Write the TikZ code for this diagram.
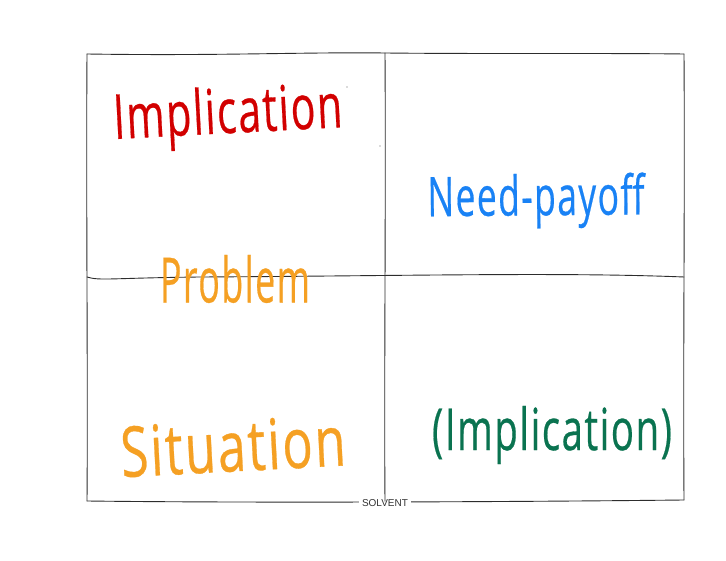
\documentclass[tikz,border=0pt]{standalone}
\usepackage{fontspec}
\setmainfont{Open Sans}
\newfontfamily\handfont[FakeBold=0.5,LetterSpace=4]{Open Sans}
\newfontfamily\labelfont{Liberation Sans}
\usepackage{graphicx}
\definecolor{hred}{RGB}{210,0,0}
\definecolor{hblue}{RGB}{25,130,245}
\definecolor{horange}{RGB}{245,160,35}
\definecolor{hgreen}{RGB}{10,115,80}
\definecolor{gridc}{RGB}{45,45,45}
\newcommand{\hwtext}[3]{\resizebox*{#1}{#2}{\handfont #3}}
\begin{document}
\begin{tikzpicture}[x=1pt,y=-1pt,
  gridline/.style={draw=gridc, line width=0.9pt, line cap=round},
  hand/.style={inner sep=0pt, outer sep=0pt},
  caption/.style={fill=white, inner xsep=3pt, inner ysep=2pt, text=black!80, font=\labelfont\fontsize{10}{10}\selectfont}]
\useasboundingbox[fill=white] (0,0) rectangle (726,561);
% grid corners
\coordinate (tl) at (87,54);
\coordinate (tr) at (684,54);
\coordinate (bl) at (87,501);
\coordinate (br) at (684,500);
\coordinate (tm) at (385,53);
\coordinate (ml) at (87,277);
\coordinate (mr) at (684,277);
% outer box
\draw[gridline] (tl) .. controls (220,56) and (300,52) .. (tm) .. controls (480,54) and (600,53) .. (tr);
\draw[gridline] (tr) .. controls (685,200) and (683,350) .. (br);
\draw[gridline] (bl) .. controls (250,503) and (500,502) .. (br);
\draw[gridline] (tl) .. controls (86,200) and (88,380) .. (bl);
% caption
\node[caption] (solvent) at (385,503) {SOLVENT};
% dividers
\draw[gridline] (tm) .. controls (386,200) and (384,380) .. ([yshift=-4pt]solvent.north);
\draw[gridline] (ml) .. controls (100,281) and (110,278) .. (200,277) .. controls (400,276) and (560,272) .. (mr);
% stray marks
\fill[black!60] (347,87) circle (0.6);
\fill[black!60] (380,146) circle (0.6);
% texts
\node[hand, text=hred, rotate=3] (imp) at (228,117) {\hwtext{229pt}{62pt}{Implication}};
\node[hand, text=hblue, rotate=0.5] (need) at (536,201) {\hwtext{217pt}{55pt}{Need-payoff}};
\node[hand, text=horange] (prob) at (235,279) {\hwtext{150pt}{48pt}{Problem}};
\node[hand, text=horange, rotate=3] (sit) at (233,446) {\hwtext{225pt}{52pt}{Situation}};
\node[hand, text=hgreen] (imp2) at (552,435) {\hwtext{240pt}{58pt}{(Implication)}};
\end{tikzpicture}
\end{document}
